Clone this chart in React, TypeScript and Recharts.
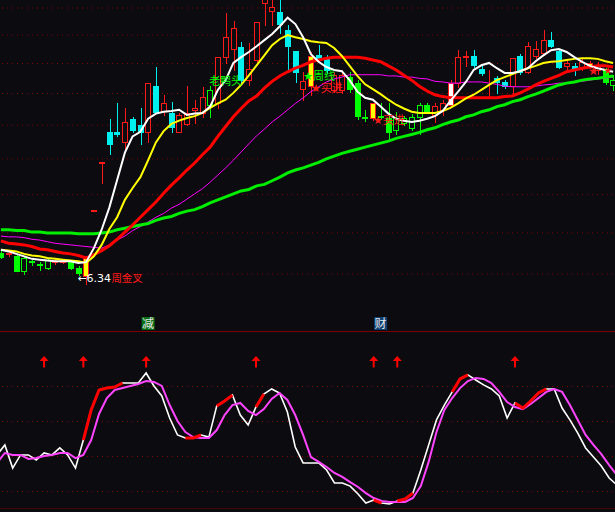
import React from "react";
import {
  ComposedChart,
  Bar,
  Line,
  XAxis,
  YAxis,
  CartesianGrid,
  ReferenceLine,
  ReferenceDot,
} from "recharts";

/* ── K-line + MA panel, oscillator panel below ─────────────────────── */

const BG = "#0c0c10";
const GRID = "#800000";
const RED = "#ff1a1a";
const CYAN = "#00f0f0";
const GREEN = "#00ff00";

// candle kinds: r = up (hollow red), c = down (cyan), g = green filled,
// gh = green hollow, y = yellow signal bar, w = white signal bar
const kType = [
  "g", "r", "g", "gh", "g", "g", "gh", "r", "r", "g",
  "g", "y", "r", "r", "c", "c", "r", "c", "c", "r",
  "c", "r", "c", "r", "r", "r", "r", "gh", "r", "r",
  "r", "c", "r", "r", "r", "r", "c", "c", "c", "r",
  "y", "c", "c", "r", "r", "g", "g", "g", "y", "g",
  "g", "gh", "gh", "gh", "gh", "g", "r", "r", "w", "r",
  "r", "c", "c", "r", "c", "c", "r", "c", "r", "r",
  "r", "c", "c", "r", "c", "r", "y", "r", "g", "gh",
];
const kOpen = [
  6.75, 6.74, 6.72, 6.54, 6.65, 6.62, 6.57, 6.64, 6.64, 6.64,
  6.57, 6.48, 7.28, 7.94, 8.40, 8.40, 8.24, 8.60, 8.51, 8.39,
  9.12, 8.72, 8.69, 8.40, 8.52, 8.74, 8.69, 8.82, 8.85, 9.61,
  9.75, 9.78, 9.22, 9.56, 10.59, 10.44, 10.42, 10.09, 9.71, 9.07,
  9.12, 9.65, 9.59, 9.06, 9.06, 9.27, 9.17, 8.62, 8.61, 8.64,
  8.61, 8.43, 8.54, 8.46, 8.63, 8.82, 8.66, 8.74, 8.82, 9.17,
  9.62, 9.63, 9.41, 9.35, 9.25, 9.19, 9.12, 9.63, 9.36, 9.63,
  9.68, 9.91, 9.71, 9.46, 9.46, 9.44, 9.46, 9.39, 9.39, 9.14,
];
const kHigh = [
  6.77, 6.79, 6.75, 6.72, 6.67, 6.64, 6.69, 6.68, 6.67, 6.65,
  6.60, 6.72, 7.30, 7.95, 8.60, 8.84, 8.77, 8.63, 8.77, 9.18,
  9.44, 8.98, 8.87, 8.69, 9.12, 8.90, 9.11, 9.12, 9.61, 10.40,
  10.26, 9.87, 9.86, 10.24, 10.85, 10.81, 10.75, 10.18, 9.71, 9.36,
  9.70, 9.82, 9.65, 9.36, 9.39, 9.36, 9.22, 8.74, 8.85, 8.85,
  8.84, 8.71, 8.64, 8.68, 8.85, 8.84, 8.85, 8.90, 9.22, 9.73,
  9.71, 9.73, 9.46, 9.39, 9.29, 9.22, 9.59, 9.66, 9.87, 9.89,
  10.09, 10.05, 9.73, 9.56, 9.51, 9.60, 9.54, 9.53, 9.42, 9.31,
];
const kLow = [
  6.69, 6.71, 6.53, 6.50, 6.61, 6.55, 6.56, 6.62, 6.63, 6.56,
  6.49, 6.38, 7.28, 7.66, 8.07, 8.33, 8.10, 8.40, 8.21, 8.25,
  8.69, 8.66, 8.40, 8.40, 8.51, 8.54, 8.63, 8.63, 8.77, 9.51,
  9.39, 9.17, 9.14, 9.51, 10.18, 10.18, 10.04, 9.39, 9.19, 8.90,
  8.98, 9.53, 9.34, 9.03, 9.01, 9.03, 8.60, 8.56, 8.58, 8.61,
  8.28, 8.37, 8.51, 8.42, 8.37, 8.69, 8.55, 8.66, 8.80, 9.11,
  9.46, 9.44, 9.31, 8.96, 9.01, 9.09, 9.01, 9.33, 9.34, 9.59,
  9.65, 9.78, 9.42, 9.36, 9.31, 9.39, 9.42, 9.32, 9.15, 9.06,
];
const kClose = [
  6.70, 6.75, 6.54, 6.69, 6.64, 6.61, 6.67, 6.66, 6.66, 6.57,
  6.51, 6.70, 7.29, 7.95, 8.22, 8.36, 8.55, 8.42, 8.40, 9.17,
  8.71, 8.85, 8.47, 8.66, 8.69, 8.77, 8.95, 9.06, 9.61, 9.96,
  10.13, 9.22, 9.41, 10.24, 10.73, 10.52, 10.20, 9.80, 9.36, 9.20,
  9.63, 9.58, 9.39, 9.30, 9.30, 9.07, 8.64, 8.61, 8.84, 8.62,
  8.40, 8.61, 8.61, 8.63, 8.82, 8.72, 8.80, 8.85, 9.17, 9.61,
  9.63, 9.48, 9.34, 9.36, 9.19, 9.12, 9.59, 9.36, 9.80, 9.75,
  9.91, 9.80, 9.44, 9.51, 9.42, 9.53, 9.51, 9.46, 9.19, 9.22,
];

const ma5 = [
  6.79, 6.77, 6.74, 6.71, 6.68, 6.67, 6.66, 6.65, 6.65, 6.65,
  6.63, 6.64, 6.81, 7.04, 7.33, 7.70, 8.09, 8.33, 8.40, 8.60,
  8.68, 8.71, 8.72, 8.74, 8.66, 8.68, 8.69, 8.79, 9.06, 9.22,
  9.51, 9.61, 9.70, 9.80, 9.91, 10.02, 10.16, 10.32, 10.20, 9.96,
  9.66, 9.53, 9.44, 9.39, 9.37, 9.22, 9.03, 8.93, 8.90, 8.79,
  8.68, 8.60, 8.57, 8.55, 8.57, 8.60, 8.64, 8.72, 8.88, 9.03,
  9.19, 9.39, 9.47, 9.51, 9.42, 9.34, 9.34, 9.37, 9.42, 9.54,
  9.64, 9.73, 9.75, 9.70, 9.61, 9.53, 9.46, 9.42, 9.39, 9.36,
];
const ma10 = [
  6.79, 6.78, 6.77, 6.74, 6.72, 6.71, 6.69, 6.68, 6.67, 6.66,
  6.65, 6.63, 6.71, 6.85, 7.05, 7.20, 7.43, 7.59, 7.74, 7.98,
  8.24, 8.41, 8.52, 8.57, 8.61, 8.64, 8.69, 8.77, 8.84, 8.90,
  9.01, 9.14, 9.30, 9.47, 9.64, 9.82, 9.93, 10.00, 9.96, 9.93,
  9.89, 9.87, 9.86, 9.77, 9.63, 9.46, 9.29, 9.15, 9.07, 8.99,
  8.90, 8.82, 8.76, 8.71, 8.69, 8.69, 8.69, 8.72, 8.77, 8.84,
  8.92, 8.98, 9.06, 9.14, 9.22, 9.27, 9.32, 9.37, 9.42, 9.46,
  9.51, 9.53, 9.54, 9.56, 9.58, 9.59, 9.59, 9.58, 9.54, 9.51,
];
const ma20 = [
  6.90, 6.87, 6.86, 6.85, 6.83, 6.80, 6.79, 6.77, 6.75, 6.74,
  6.72, 6.69, 6.73, 6.78, 6.84, 6.92, 7.01, 7.10, 7.20, 7.30,
  7.40, 7.52, 7.63, 7.73, 7.84, 7.94, 8.06, 8.17, 8.33, 8.48,
  8.63, 8.76, 8.88, 8.96, 9.09, 9.20, 9.29, 9.36, 9.42, 9.47,
  9.53, 9.56, 9.59, 9.61, 9.61, 9.61, 9.61, 9.59, 9.56, 9.53,
  9.46, 9.39, 9.30, 9.22, 9.12, 9.04, 8.98, 8.95, 8.93, 8.93,
  8.93, 8.93, 8.93, 8.93, 8.93, 8.95, 8.96, 9.01, 9.07, 9.14,
  9.20, 9.25, 9.30, 9.36, 9.39, 9.42, 9.44, 9.46, 9.46, 9.44,
];
const ma30 = [
  6.96, 6.95, 6.95, 6.94, 6.92, 6.91, 6.89, 6.87, 6.86, 6.85,
  6.84, 6.83, 6.82, 6.81, 6.85, 6.91, 6.96, 7.03, 7.08, 7.14,
  7.20, 7.25, 7.32, 7.37, 7.44, 7.51, 7.58, 7.67, 7.77, 7.87,
  7.98, 8.10, 8.22, 8.34, 8.44, 8.55, 8.64, 8.74, 8.84, 8.93,
  9.03, 9.11, 9.19, 9.24, 9.27, 9.31, 9.31, 9.31, 9.31, 9.31,
  9.29, 9.29, 9.27, 9.27, 9.25, 9.24, 9.20, 9.19, 9.17, 9.17,
  9.19, 9.19, 9.19, 9.17, 9.15, 9.12, 9.11, 9.11, 9.11, 9.12,
  9.14, 9.15, 9.17, 9.17, 9.19, 9.20, 9.22, 9.24, 9.25, 9.27,
];
const ma60 = [
  7.04, 7.04, 7.03, 7.03, 7.01, 7.01, 7.00, 7.00, 7.00, 7.00,
  6.99, 6.99, 6.99, 7.00, 7.01, 7.04, 7.06, 7.08, 7.10, 7.12,
  7.16, 7.19, 7.21, 7.25, 7.28, 7.30, 7.34, 7.39, 7.43, 7.47,
  7.51, 7.55, 7.57, 7.62, 7.64, 7.69, 7.74, 7.80, 7.84, 7.87,
  7.91, 7.95, 8.00, 8.04, 8.08, 8.11, 8.14, 8.17, 8.20, 8.23,
  8.26, 8.30, 8.33, 8.36, 8.39, 8.43, 8.46, 8.51, 8.55, 8.58,
  8.63, 8.66, 8.71, 8.74, 8.79, 8.82, 8.87, 8.90, 8.95, 8.99,
  9.04, 9.09, 9.14, 9.17, 9.19, 9.22, 9.24, 9.25, 9.27, 9.29,
];

// oscillator (0..100)
const oscFast = [
  30.9, 36.6, 23.4, 30.9, 30.9, 28.0, 32.0, 30.9, 34.9, 30.9,
  23.4, 39.4, 56.6, 68.0, 69.1, 69.7, 72.0, 72.0, 72.0, 77.7,
  70.3, 64.6, 52.0, 42.3, 40.6, 40.6, 42.3, 41.1, 58.9, 61.7,
  65.1, 53.7, 48.0, 58.3, 65.7, 68.6, 66.3, 55.4, 35.4, 26.3,
  26.3, 26.3, 22.3, 14.9, 14.9, 13.1, 8.6, 3.4, 5.1, 3.4,
  2.9, 4.6, 5.7, 9.1, 22.3, 36.6, 50.9, 59.4, 66.9, 74.3,
  76.6, 73.7, 70.9, 68.6, 64.6, 52.0, 60.6, 57.7, 61.7, 66.3,
  68.6, 68.6, 57.7, 50.9, 43.4, 34.9, 29.7, 24.6, 17.7, 13.7,
];
const oscSlow = [
  26.3, 32.0, 30.9, 30.9, 28.6, 29.1, 30.3, 30.9, 32.0, 32.0,
  29.1, 30.9, 39.4, 54.3, 63.4, 68.0, 69.1, 70.3, 71.4, 73.1,
  72.6, 70.3, 59.4, 50.3, 44.0, 41.1, 40.6, 40.6, 45.1, 53.7,
  59.4, 60.6, 56.0, 53.7, 57.1, 62.9, 66.3, 62.3, 53.7, 42.3,
  29.7, 26.9, 24.0, 20.6, 18.3, 15.4, 12.6, 9.1, 6.3, 4.6,
  4.0, 4.0, 4.0, 6.3, 13.1, 26.9, 44.0, 56.6, 63.4, 69.1,
  73.1, 74.9, 74.3, 72.0, 66.9, 61.1, 58.3, 57.1, 60.0, 63.4,
  66.9, 68.6, 66.9, 59.4, 50.9, 42.3, 36.6, 31.4, 25.1, 19.4,
];
// bars where the fast line is drawn hot (red)
const oscHot = [
  11, 12, 13, 14, 15, 16, 24, 25, 26, 28, 29, 30, 33, 34,
  48, 49, 51, 52, 53, 58, 59, 60, 66, 67, 68, 69, 70,
];
const arrowBars = [6, 11, 19, 33, 48, 51, 66];

const gridPrices = [6.5, 7.0, 7.5, 8.0, 8.5, 9.0, 9.5, 10.0, 10.5];
const oscLevels = [10, 30, 50, 70];
const PRICE_FLOOR = 5.865;
const PRICE_CEIL = 10.653;

const notes = [
  { i: 10, price: 6.41, text: "←6.34", color: "#ffffff", size: 11, dx: -1 },
  { i: 14, price: 6.41, text: "周金叉", color: RED, size: 10.5, dx: 2 },
  { i: 27, price: 9.14, text: "老鸭头", color: GREEN, size: 11, dx: -1 },
  { i: 39, price: 9.22, text: "★周线", color: GREEN, size: 11, dx: 0 },
  { i: 40, price: 9.03, text: "★买进", color: RED, size: 11, dx: 0 },
  { i: 48, price: 8.52, text: "★买进", color: RED, size: 11, dx: 0 },
  { i: 76, price: 9.31, text: "★", color: RED, size: 12, dx: -2 },
  { i: 78, price: 9.33, text: "★", color: RED, size: 10, dx: -2 },
];
const tags = [
  { i: 19, text: "减", bg: "#0a6e14" },
  { i: 49, text: "财", bg: "#0d3f72" },
];
const TAG_PRICE = 5.945;

const ln = (v: number) => Math.log(v);

const priceRows = kOpen.map((open, i) => ({
  i,
  kind: kType[i],
  o: ln(open),
  h: ln(kHigh[i]),
  l: ln(kLow[i]),
  c: ln(kClose[i]),
  range: [ln(kLow[i]), ln(kHigh[i])],
  ma5: ln(ma5[i]),
  ma10: ln(ma10[i]),
  ma20: ln(ma20[i]),
  ma30: ln(ma30[i]),
  ma60: ln(ma60[i]),
}));

const oscRows = oscFast.map((v, i) => ({
  i,
  fast: v,
  slow: oscSlow[i],
  hot: oscHot.includes(i) ? v : null,
}));

const K_STYLE: Record<string, { body: string; edge: string; wick: string }> = {
  r: { body: BG, edge: RED, wick: RED },
  c: { body: CYAN, edge: CYAN, wick: CYAN },
  g: { body: GREEN, edge: GREEN, wick: GREEN },
  gh: { body: BG, edge: GREEN, wick: GREEN },
  y: { body: "#ffff00", edge: RED, wick: RED },
  w: { body: "#ffffff", edge: RED, wick: RED },
};

function renderCandle(props: any) {
  const { x, y, width, height, payload } = props;
  if (x == null || y == null || !payload) return <g />;
  const top = Math.min(y, y + height);
  const bot = Math.max(y, y + height);
  const span = payload.h - payload.l;
  const toY = (v: number) => (span > 0 ? top + ((payload.h - v) / span) * (bot - top) : top);
  const cx = Math.round(x + width / 2) + 0.5;
  const yo = toY(payload.o);
  const yc = toY(payload.c);
  const bTop = Math.round(Math.min(yo, yc));
  const bBot = Math.round(Math.max(yo, yc));
  const st = K_STYLE[payload.kind];
  return (
    <g shapeRendering="crispEdges">
      <line x1={cx} x2={cx} y1={Math.round(top)} y2={Math.round(bot) + 1} stroke={st.wick} strokeWidth={1} />
      <rect x={cx - 3} y={bTop + 0.5} width={5} height={Math.max(bBot - bTop, 0)} fill={st.body} stroke={st.edge} strokeWidth={1} />
    </g>
  );
}

function UpArrow({ cx, cy }: any) {
  return (
    <g fill="#ff0000">
      <path d={`M${cx} ${cy - 6} L${cx - 4.5} ${cy - 1} L${cx + 4.5} ${cy - 1} Z`} />
      <rect x={cx - 1} y={cy - 1.5} width={2} height={7} />
    </g>
  );
}

const lineProps = { type: "linear" as const, dot: false, activeDot: false, isAnimationActive: false };

export default function App() {
  return (
    <div style={{ position: "fixed", left: 0, top: 0, width: 615, height: 512, background: BG, overflow: "hidden" }}>
      <div style={{ position: "absolute", left: -3, top: 0 }}>
        <ComposedChart width={620} height={331} data={priceRows} margin={{ top: 0, right: 0, bottom: 0, left: 0 }}>
          <XAxis dataKey="i" hide />
          <YAxis hide type="number" domain={[ln(PRICE_FLOOR), ln(PRICE_CEIL)]} allowDataOverflow />
          <CartesianGrid
            vertical={false}
            horizontalValues={gridPrices.map((p) => ln(p))}
            stroke={GRID}
            strokeDasharray="1 4"
          />
          <Bar dataKey="range" barSize={6} shape={renderCandle} activeBar={false} isAnimationActive={false} />
          <Line {...lineProps} dataKey="ma30" stroke="#ff00ff" strokeWidth={1} />
          <Line {...lineProps} dataKey="ma60" stroke="#00ee00" strokeWidth={3} />
          <Line {...lineProps} dataKey="ma20" stroke="#ff0000" strokeWidth={3} />
          <Line {...lineProps} dataKey="ma10" stroke="#ffff00" strokeWidth={2} />
          <Line {...lineProps} dataKey="ma5" stroke="#ffffff" strokeWidth={2} />
          {notes.map((n, k) => (
            <ReferenceDot
              key={`n${k}`}
              x={n.i}
              y={ln(n.price)}
              shape={(p: any) => (
                <text
                  x={p.cx + n.dx}
                  y={p.cy}
                  fill={n.color}
                  fontSize={n.size}
                  fontFamily="'DejaVu Sans', 'Noto Sans CJK SC', sans-serif"
                >
                  {n.text}
                </text>
              )}
            />
          ))}
          {tags.map((t) => (
            <ReferenceDot
              key={t.text}
              x={t.i}
              y={ln(TAG_PRICE)}
              shape={(p: any) => (
                <g>
                  <rect x={p.cx - 6.5} y={p.cy - 6.5} width={13} height={13} fill={t.bg} />
                  <text
                    x={p.cx}
                    y={p.cy + 4.5}
                    textAnchor="middle"
                    fill="#e8e8e8"
                    fontSize={12}
                    fontFamily="'Noto Sans CJK SC', sans-serif"
                  >
                    {t.text}
                  </text>
                </g>
              )}
            />
          ))}
        </ComposedChart>
      </div>
      <div style={{ position: "absolute", left: 0, top: 331, width: 615, height: 1, background: GRID }} />
      <div style={{ position: "absolute", left: -3, top: 331 }}>
        <ComposedChart width={620} height={178} data={oscRows} margin={{ top: 3, right: 0, bottom: 0, left: 0 }}>
          <XAxis dataKey="i" hide />
          <YAxis hide type="number" domain={[0, 100]} allowDataOverflow />
          <CartesianGrid vertical={false} horizontalValues={oscLevels} stroke={GRID} strokeDasharray="1 4" />
          <ReferenceLine y={0} stroke={GRID} strokeWidth={1} />
          <Line {...lineProps} dataKey="fast" stroke="#ffffff" strokeWidth={1.6} />
          <Line {...lineProps} dataKey="slow" stroke="#ff44ff" strokeWidth={2} />
          <Line {...lineProps} dataKey="hot" stroke="#ff0000" strokeWidth={3} />
          {arrowBars.map((b) => (
            <ReferenceDot key={b} x={b} y={84} shape={(p: any) => <UpArrow cx={p.cx} cy={p.cy} />} />
          ))}
        </ComposedChart>
      </div>
    </div>
  );
}
